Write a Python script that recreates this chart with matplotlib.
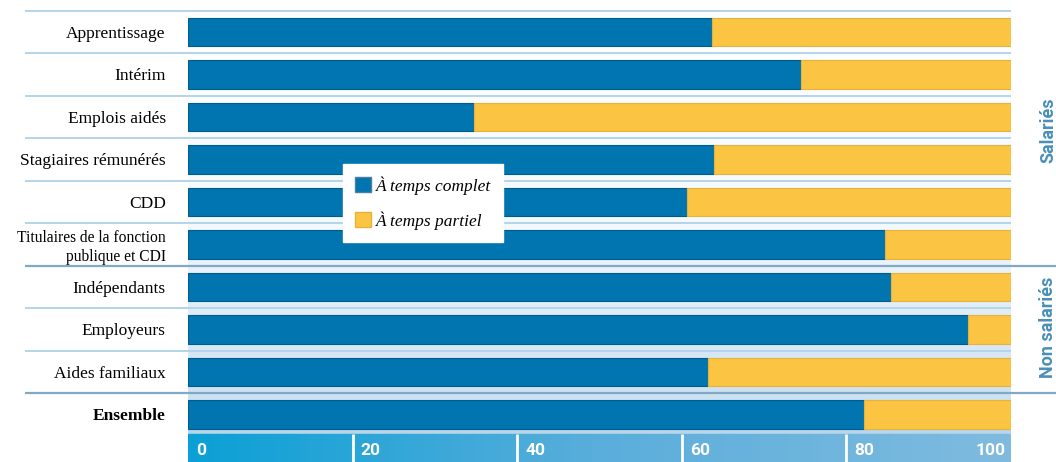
# Part des emplois à temps complet / partiel selon le statut
import numpy as np
import matplotlib.pyplot as plt
from matplotlib.colors import LinearSegmentedColormap
from matplotlib.patches import Patch

categories = ["Apprentissage", "Intérim", "Emplois aidés", "Stagiaires rémunérés", "CDD",
              "Titulaires de la fonction\npublique et CDI", "Indépendants", "Employeurs",
              "Aides familiaux", "Ensemble"]
temps_complet = [63.7, 74.5, 34.8, 63.9, 60.6, 84.7, 85.4, 94.8, 63.2, 82.1]
temps_partiel = [100 - v for v in temps_complet]
ticks = [0, 20, 40, 60, 80, 100]
groups = ["Salariés", "Non salariés"]

blue = "#0075af"
yellow = "#fbc543"
label_blue = "#4a8fb8"
serif = ["Liberation Serif", "DejaVu Serif"]
narrow = ["Roboto", "DejaVu Sans"]

fig = plt.figure(figsize=(10.56, 4.62), dpi=100)
ax = fig.add_axes([188 / 1056, 0, 823 / 1056, 1])
y = np.arange(len(categories))
ax.set_xlim(0, 100)
ax.set_ylim(10.118, -0.753)

# background gradient (white at top -> light blue at bottom)
grad = np.linspace(0, 1, 200).reshape(-1, 1)
cmap_bg = LinearSegmentedColormap.from_list("bg", ["#ffffff", "#f4f9fc", "#c5ddef"])
ax.imshow(grad, extent=[0, 100, 9.45, -0.5], aspect="auto", cmap=cmap_bg, zorder=0)

ax.barh(y, temps_complet, height=0.66, color=blue, edgecolor="#005c8e", linewidth=0.8, zorder=3)
ax.barh(y, temps_partiel, left=temps_complet, height=0.66, color=yellow,
        edgecolor="#e8b13c", linewidth=0.8, zorder=3)

# row separators
for i in range(len(categories)):
    sep = i - 0.5
    if i in (6, 9):
        ax.hlines(sep, -19.8, 105.5, color="#7fa9c6", lw=1.6, clip_on=False, zorder=2)
    else:
        ax.hlines(sep, -19.8, 100, color="#b3d4ea", lw=1.4, clip_on=False, zorder=2)
ax.hlines(9.39, 0, 100, color="#b8d6ea", lw=4, zorder=2)

# bottom scale band
band = np.linspace(0, 1, 200).reshape(1, -1)
cmap_band = LinearSegmentedColormap.from_list("band", ["#0ba0d5", "#5aaedb", "#80bbdf"])
ax.imshow(band, extent=[0, 100, 10.118, 9.45], aspect="auto", cmap=cmap_band, zorder=1)
for t in ticks[1:-1]:
    ax.vlines(t, 9.45, 10.118, color="white", lw=2, zorder=2)
for t in ticks:
    ha = "right" if t == 100 else "left"
    dx = -0.7 if t == 100 else 1.0
    ax.text(t + dx, 9.85, str(t), color="white", fontsize=12.5, fontweight="bold",
            family=narrow, ha=ha, va="center", zorder=4)

ax.set_yticks(y)
ax.set_yticklabels(categories, family=serif, fontsize=12.5)
for lbl in ax.get_yticklabels():
    if lbl.get_text().startswith("Titulaires"):
        lbl.set_fontsize(11.2)
        lbl.set_linespacing(1.2)
        lbl.set_multialignment("right")
    if lbl.get_text() == "Ensemble":
        lbl.set_fontweight("bold")
ax.tick_params(axis="y", length=0, pad=16)
ax.set_xticks([])
for s in ax.spines.values():
    s.set_visible(False)

# group labels on the right
ax.text(104.5, 2.3, groups[0], rotation=90, color=label_blue, fontsize=13, fontweight="bold",
        family=narrow, ha="center", va="center")
ax.text(104.5, 6.95, groups[1], rotation=90, color=label_blue, fontsize=13, fontweight="bold",
        family=narrow, ha="center", va="center")

handles = [Patch(facecolor=blue, edgecolor="#4a7fa6", label="À temps complet"),
           Patch(facecolor=yellow, edgecolor="#e8b13c", label="À temps partiel")]
leg = fig.legend(handles=handles, loc="upper left", bbox_to_anchor=(343 / 1056, 1 - 164 / 462),
                 frameon=True, fancybox=False, framealpha=1, edgecolor="white",
                 prop={"family": serif, "style": "italic", "size": 12.5},
                 handlelength=0.9, handleheight=0.9, handletextpad=0.3, labelspacing=0.95,
                 borderpad=0.7, borderaxespad=0)
leg.set_zorder(10)

plt.savefig("out.png", dpi=100)
